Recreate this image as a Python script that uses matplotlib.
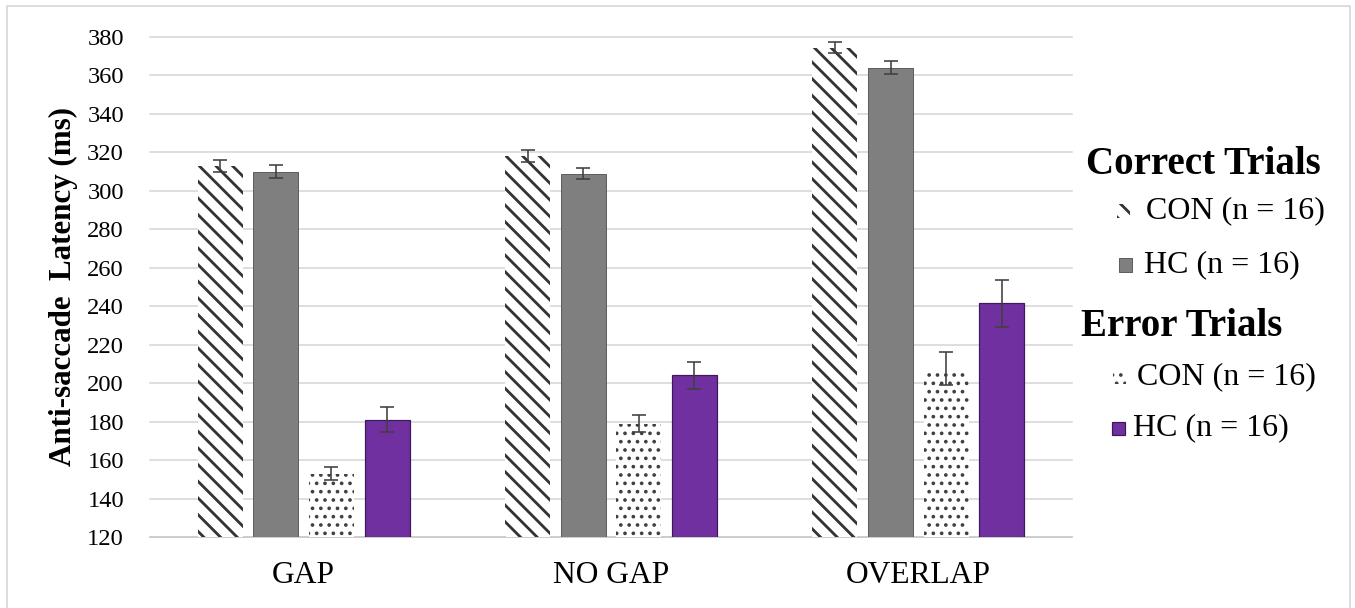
import matplotlib
matplotlib.use("Agg")
import matplotlib.pyplot as plt
from matplotlib.patches import Rectangle
import numpy as np

# Anti-saccade latency (ms) by condition
conditions = ["GAP", "NO GAP", "OVERLAP"]
correct_con = [313, 318, 374.5]
correct_con_err = [3, 3, 3]
correct_hc = [310, 309, 364]
correct_hc_err = [3.5, 3, 3.5]
error_con = [153, 179, 207.5]
error_con_err = [3.5, 4.5, 8.5]
error_hc = [181, 204, 241.5]
error_hc_err = [6.5, 7, 12.3]
y_ticks = list(range(120, 400, 20))

correct_title = "Correct Trials"
error_title = "Error Trials"
con_label = "CON (n = 16)"
hc_label = "HC (n = 16)"

W, H, DPI = 1355, 608, 100


def pt(px):
    """Pixel size -> points at the output resolution."""
    return px * 72.0 / DPI


plt.rcParams["font.family"] = ["Liberation Serif", "DejaVu Serif"]
plt.rcParams["hatch.linewidth"] = pt(2.8)

fig = plt.figure(figsize=(W / DPI, H / DPI), dpi=DPI)
ax = fig.add_axes([150 / W, 1 - 537 / H, 922 / W, 500 / H])

styles = [
    dict(facecolor="white", edgecolor="#333333", hatch="\\\\", linewidth=0, hlw=pt(2.8)),
    dict(facecolor="#7f7f7f", edgecolor="#5e5e5e", hatch=None, linewidth=pt(1.0), hlw=None),
    dict(facecolor="white", edgecolor="#404040", hatch="..", linewidth=0, hlw=pt(2.0)),
    dict(facecolor="#7030a0", edgecolor="#3c1a5a", hatch=None, linewidth=pt(1.2), hlw=None),
]
series = [
    (correct_con, correct_con_err),
    (correct_hc, correct_hc_err),
    (error_con, error_con_err),
    (error_hc, error_hc_err),
]

x = np.arange(len(conditions))
pitch = 0.181
width = 0.147
for i, ((vals, errs), st) in enumerate(zip(series, styles)):
    xi = x + (i - 1.5) * pitch
    bars = ax.bar(xi, np.array(vals) - 120, width=width, bottom=120,
                  facecolor=st["facecolor"], edgecolor=st["edgecolor"],
                  linewidth=st["linewidth"], hatch=st["hatch"], zorder=3)
    if st["hlw"] is not None:
        for b in bars:
            if hasattr(b, "set_hatch_linewidth"):
                b.set_hatch_linewidth(st["hlw"])
    ax.errorbar(xi, vals, yerr=errs, fmt="none", ecolor="#404040",
                elinewidth=pt(1.6), capsize=pt(7), capthick=pt(1.6), zorder=4)

ax.set_xlim(-0.5, 2.5)
ax.set_ylim(120, 380)
ax.set_yticks(y_ticks)
ax.set_xticks(x)
ax.set_xticklabels(conditions, fontsize=pt(31.5))
ax.tick_params(axis="y", length=0, pad=pt(26), labelsize=pt(24.5))
ax.tick_params(axis="x", length=0, pad=pt(24))
for s in ["top", "right", "left"]:
    ax.spines[s].set_visible(False)
ax.spines["bottom"].set_color("#c8c8c8")
ax.spines["bottom"].set_linewidth(pt(1.5))
ax.yaxis.grid(True, color="#d4d4d4", linewidth=pt(1.5), zorder=0)
for gl in ax.get_ygridlines():
    gl.set_clip_on(False)
ax.set_axisbelow(True)

ax.set_ylabel("Anti-saccade  Latency (ms)", fontsize=pt(31), fontweight="bold")
ax.yaxis.set_label_coords(-(150 - 63) / 922, 0.5)
ax.yaxis.label.set_va("center")


def fx(px):
    return px / W


def fy(py):
    return 1 - py / H


# outer frame
fig.add_artist(Rectangle((fx(7), -0.05), fx(1350) - fx(7), fy(6) + 0.05,
                         transform=fig.transFigure, fill=False,
                         edgecolor="#d2d2d2", linewidth=pt(1.5)))

# legend
fig.text(fx(1086), fy(165), correct_title, fontsize=pt(39), fontweight="bold",
         ha="left", va="center")
fig.text(fx(1081), fy(327), error_title, fontsize=pt(39), fontweight="bold",
         ha="left", va="center")

legend_rows = [
    (styles[0], 1117, 211, 1146, con_label),
    (styles[1], 1119, 265, 1144, hc_label),
    (styles[2], 1113, 377, 1137, con_label),
    (styles[3], 1112, 428, 1133, hc_label),
]
for st, mx, my, tx, label in legend_rows:
    size = 13
    r = Rectangle((fx(mx), fy(my + size / 2)), size / W, size / H,
                  transform=fig.transFigure, facecolor=st["facecolor"],
                  edgecolor=st["edgecolor"], linewidth=st["linewidth"],
                  hatch=st["hatch"])
    if st["hlw"] is not None and hasattr(r, "set_hatch_linewidth"):
        r.set_hatch_linewidth(st["hlw"])
    fig.add_artist(r)
    fig.text(fx(tx), fy(my), label, fontsize=pt(32), ha="left", va="center")

fig.savefig("out.png", dpi=DPI)
